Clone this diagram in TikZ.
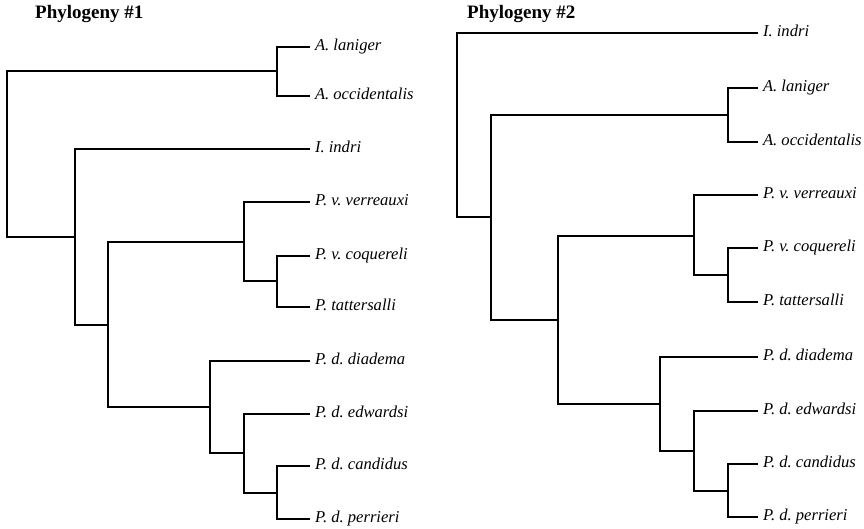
\documentclass[tikz,border=0pt]{standalone}
\usepackage{fontspec}
\setmainfont{Liberation Serif}
\begin{document}
\frenchspacing
\begin{tikzpicture}[x=1pt,y=-1pt,
  br/.style={line width=1.4pt},
  leaf/.style={anchor=west, inner xsep=5pt, inner ysep=0pt, outer sep=0pt,
    text height=0.66em, text depth=0pt, font=\fontsize{16.6}{19}\selectfont\itshape},
  ttl/.style={anchor=west, inner sep=0pt, text height=0.66em, text depth=0pt,
    font=\fontsize{19}{22}\selectfont\bfseries}]
\useasboundingbox (0,0) rectangle (864,528);
% ---------- Phylogeny #1 ----------
\node[ttl] (h1) at (35,15) {Phylogeny \#1};
\coordinate (r1) at (7,154);
\coordinate (a1) at (277,71);
\coordinate (n1) at (75,237);
\coordinate (m1) at (108,325);
\coordinate (v1) at (244,242);
\coordinate (c1) at (277,281);
\coordinate (d1) at (210,407);
\coordinate (e1) at (244,453);
\coordinate (p1) at (277,493);
\node[leaf] (la1) at (310,47) {A. laniger};
\node[leaf] (oc1) at (310,96) {A. occidentalis};
\node[leaf] (in1) at (310,149) {I. indri};
\node[leaf] (ve1) at (310,202) {P. v. verreauxi};
\node[leaf] (co1) at (310,256) {P. v. coquereli};
\node[leaf] (ta1) at (310,307) {P. tattersalli};
\node[leaf] (di1) at (310,361) {P. d. diadema};
\node[leaf] (ed1) at (310,414) {P. d. edwardsi};
\node[leaf] (ca1) at (310,466) {P. d. candidus};
\node[leaf] (pe1) at (310,519) {P. d. perrieri};
\draw[br] (r1) |- (a1);
\draw[br] (r1) |- (n1);
\draw[br] (a1) |- (la1.west);
\draw[br] (a1) |- (oc1.west);
\draw[br] (n1) |- (in1.west);
\draw[br] (n1) |- (m1);
\draw[br] (m1) |- (v1);
\draw[br] (m1) |- (d1);
\draw[br] (v1) |- (ve1.west);
\draw[br] (v1) |- (c1);
\draw[br] (c1) |- (co1.west);
\draw[br] (c1) |- (ta1.west);
\draw[br] (d1) |- (di1.west);
\draw[br] (d1) |- (e1);
\draw[br] (e1) |- (ed1.west);
\draw[br] (e1) |- (p1);
\draw[br] (p1) |- (ca1.west);
\draw[br] (p1) |- (pe1.west);
% ---------- Phylogeny #2 ----------
\node[ttl] (h2) at (467,15) {Phylogeny \#2};
\coordinate (r2) at (457,125);
\coordinate (a2) at (728,115);
\coordinate (n2) at (491,217);
\coordinate (m2) at (558,320);
\coordinate (v2) at (694,236);
\coordinate (c2) at (728,275);
\coordinate (d2) at (660,404);
\coordinate (e2) at (694,451);
\coordinate (p2) at (728,491);
\node[leaf] (in2) at (758,33) {I. indri};
\node[leaf] (la2) at (758,88) {A. laniger};
\node[leaf] (oc2) at (758,142) {A. occidentalis};
\node[leaf] (ve2) at (758,195) {P. v. verreauxi};
\node[leaf] (co2) at (758,248) {P. v. coquereli};
\node[leaf] (ta2) at (758,302) {P. tattersalli};
\node[leaf] (di2) at (758,357) {P. d. diadema};
\node[leaf] (ed2) at (758,411) {P. d. edwardsi};
\node[leaf] (ca2) at (758,464) {P. d. candidus};
\node[leaf] (pe2) at (758,517) {P. d. perrieri};
\draw[br] (r2) |- (in2.west);
\draw[br] (r2) |- (n2);
\draw[br] (n2) |- (a2);
\draw[br] (n2) |- (m2);
\draw[br] (a2) |- (la2.west);
\draw[br] (a2) |- (oc2.west);
\draw[br] (m2) |- (v2);
\draw[br] (m2) |- (d2);
\draw[br] (v2) |- (ve2.west);
\draw[br] (v2) |- (c2);
\draw[br] (c2) |- (co2.west);
\draw[br] (c2) |- (ta2.west);
\draw[br] (d2) |- (di2.west);
\draw[br] (d2) |- (e2);
\draw[br] (e2) |- (ed2.west);
\draw[br] (e2) |- (p2);
\draw[br] (p2) |- (ca2.west);
\draw[br] (p2) |- (pe2.west);
\end{tikzpicture}
\end{document}
